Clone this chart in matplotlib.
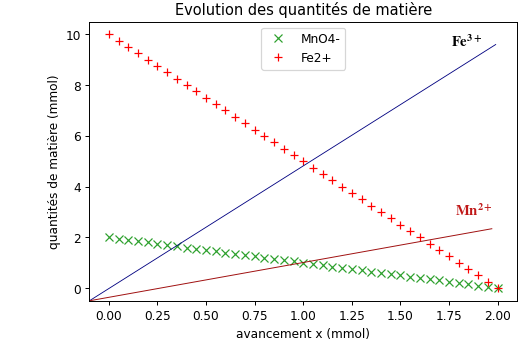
import numpy as np
from matplotlib import pyplot as plt

plt.rcParams["mathtext.fontset"] = "stix"

# avancement x de 0 a 2 mmol, pas de 0.05
x = np.linspace(0, 2, 41)
mno4 = 2 - x
fe2 = 10 - 5 * x

# droites des produits (tracees d'un coin a l'autre)
fe3_x = [-0.1, 1.99]
fe3_y = [-0.5, 9.6]
mn2_x = [-0.1, 1.97]
mn2_y = [-0.5, 2.34]

fig = plt.figure(figsize=(6.0, 3.94), dpi=87.67)
ax = fig.add_axes([0.170, 0.128, 0.813, 0.808])

ax.plot(x, mno4, "x", color="#2ca02c", label="MnO4-")
ax.plot(x, fe2, "r+", label="Fe2+")
ax.plot(fe3_x, fe3_y, color="navy", linewidth=0.7)
ax.plot(mn2_x, mn2_y, color="#a01010", linewidth=0.8)

ax.set_xlim(-0.1, 2.1)
ax.set_ylim(-0.5, 10.5)
ax.set_xticks(np.arange(0, 2.01, 0.25))

ax.text(1.76, 9.52, r"$\mathbf{Fe^{3+}}$", fontsize=12, color="black",
        ha="left", va="baseline")
ax.text(1.78, 2.86, r"$\mathbf{Mn^{2+}}$", fontsize=12, color="#c01818",
        ha="left", va="baseline")

ax.set_xlabel("avancement x (mmol)")
ax.set_ylabel("quantités de matière (mmol)")
ax.set_title("Evolution des quantités de matière")
ax.legend(loc="upper center")
plt.savefig("out.png")
